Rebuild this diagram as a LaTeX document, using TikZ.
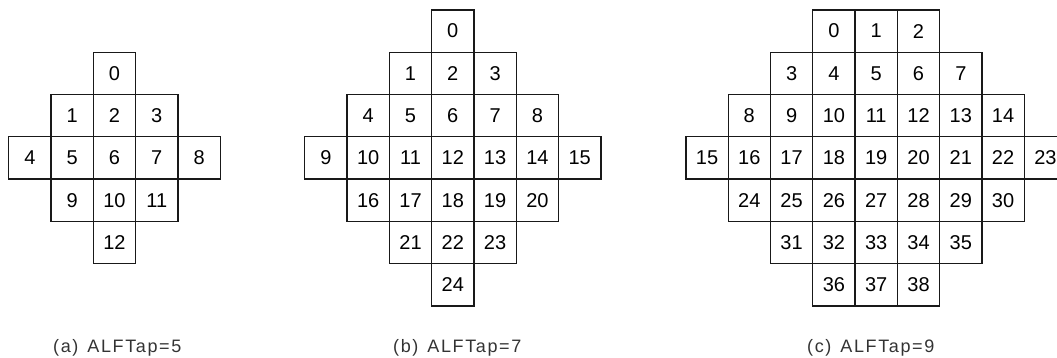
\documentclass[tikz,border=0pt]{standalone}
\usepackage{fontspec}
\setmainfont{Liberation Sans}
\newfontfamily\capfont[LetterSpace=9]{Liberation Sans}

% one diamond of tap cells: name, centre x, middle row, rows as row/width/first index
\newcommand{\tapgrid}[4]{%
  \foreach \r/\w/\s in {#4} {
    \foreach \k in {1,...,\w} {
      \pgfmathtruncatemacro{\n}{\s+\k-1}
      \node[cell] (#1\n) at ({#2+(\k-1-(\w-1)/2)*42.3}, {158+(\r-#3)*42.3}) {\n};
    }
  }%
}

\begin{document}
\begin{tikzpicture}[
  x=1pt, y=-1pt,
  cell/.style={draw=black!90, line width=1.3pt, minimum size=42.3pt,
               inner sep=0pt, font=\fontsize{20}{20}\selectfont},
  caption/.style={anchor=west, inner sep=0pt, text=black!80,
                  font=\capfont\fontsize{18}{18}\selectfont}
]
\clip (0,0) rectangle (1057,358);

\tapgrid{a}{114.5}{2}{0/1/0, 1/3/1, 2/5/4, 3/3/9, 4/1/12}
\tapgrid{b}{452.8}{3}{0/1/0, 1/3/1, 2/5/4, 3/7/9, 4/5/16, 5/3/21, 6/1/24}
\tapgrid{c}{876.2}{3}{0/3/0, 1/5/3, 2/7/8, 3/9/15, 4/7/24, 5/5/31, 6/3/36}

\node[caption] (capa) at (53,348)  {(a)\hspace{9pt}ALFTap=5};
\node[caption] (capb) at (393,348) {(b)\hspace{9pt}ALFTap=7};
\node[caption] (capc) at (807,348) {(c)\hspace{9pt}ALFTap=9};
\end{tikzpicture}
\end{document}
